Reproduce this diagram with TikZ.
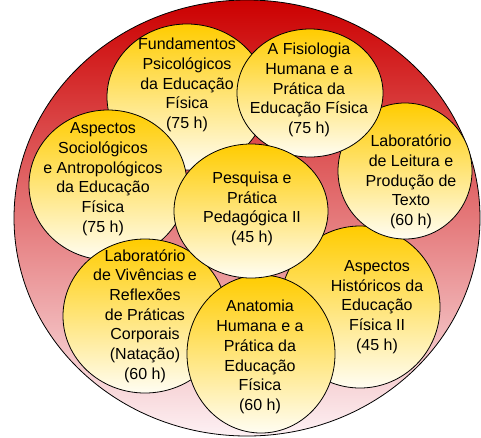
\documentclass[tikz,border=0pt]{standalone}
\usepackage{fontspec}
\setmainfont{Liberation Sans}
\usetikzlibrary{shapes.geometric}

\definecolor{ringtop}{RGB}{204,0,0}
\definecolor{ringbottom}{RGB}{253,241,244}
\definecolor{bubbletop}{RGB}{255,204,0}
\definecolor{bubblebottom}{RGB}{255,253,242}

\tikzstyle{ring} = [ellipse, inner sep=0pt, draw=black, line width=0.8pt, top color=ringtop, bottom color=ringbottom]
\tikzstyle{bubble} = [ellipse, inner sep=0pt, draw=black, line width=0.8pt, top color=bubbletop, bottom color=bubblebottom]
\tikzstyle{caption} = [align=center, inner sep=0pt, font=\fontsize{16}{19.7}\selectfont]

\begin{document}
\begin{tikzpicture}[x=1pt, y=-1pt]
\useasboundingbox (0,0) rectangle (481,437);
\node (ring) [ring, minimum width=466pt, minimum height=436pt] at (247,218) {};

% disciplines, back to front
\node (hist) [bubble, minimum width=160pt, minimum height=162pt] at (360,307) {};
\node (histtxt) [caption] at (377,307) {Aspectos\\Históricos da\\Educação\\Física II\\(45 h)};

\node (leit) [bubble, minimum width=134pt, minimum height=136pt] at (405,171) {};
\node (leittxt) [caption] at (411,182) {Laboratório\\de Leitura e\\Produção de\\Texto\\(60 h)};

\node (fund) [bubble, minimum width=160pt, minimum height=146pt] at (187,97) {};
\node (fundtxt) [caption] at (187,85) {Fundamentos\\Psicológicos\\da Educação\\Física\\(75 h)};

\node (fisio) [bubble, minimum width=146pt, minimum height=128pt] at (310,93) {};
\node (fisiotxt) [caption] at (309,90) {A Fisiologia\\Humana e a\\Prática da\\Educação Física\\(75 h)};

\node (soc) [bubble, minimum width=158pt, minimum height=150pt] at (108,185) {};
\node (soctxt) [caption] at (103,179) {Aspectos\\Sociológicos\\e Antropológicos\\da Educação\\Física\\(75 h)};

\node (viv) [bubble, minimum width=164pt, minimum height=154pt] at (145,316) {};
\node (vivtxt) [caption] at (145,316) {Laboratório\\de Vivências e\\Reflexões\\de Práticas\\Corporais\\(Natação)\\(60 h)};

\node (anat) [bubble, minimum width=148pt, minimum height=158pt] at (261,354) {};
\node (anattxt) [caption] at (260,357) {Anatomia\\Humana e a\\Prática da\\Educação\\Física\\(60 h)};

\node (pesq) [bubble, minimum width=154pt, minimum height=134pt] at (251,211) {};
\node (pesqtxt) [caption] at (252,209) {Pesquisa e\\Prática\\Pedagógica II\\(45 h)};
\end{tikzpicture}
\end{document}
